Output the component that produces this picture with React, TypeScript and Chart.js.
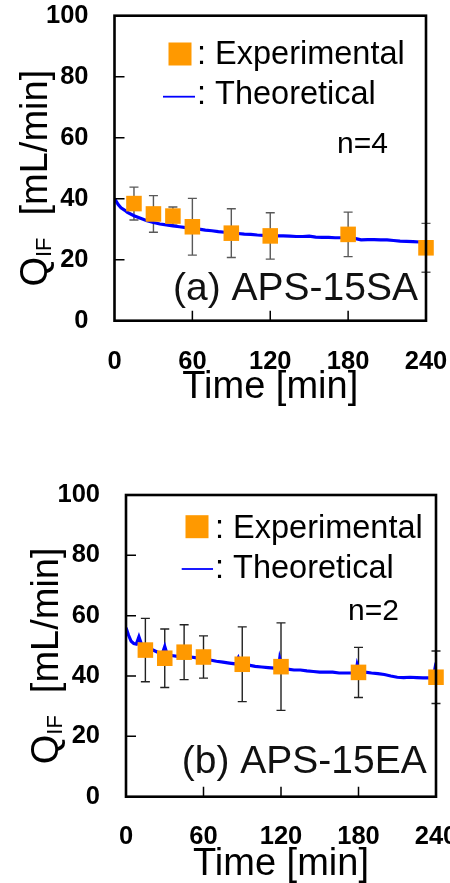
import React, { useEffect, useRef } from 'react';
import { Chart, registerables } from 'chart.js';
Chart.register(...registerables);

// ---- shared axis ticks ----
const X_TICKS = [0, 60, 120, 180, 240];
const Y_TICKS = [0, 20, 40, 60, 80, 100];
const X_INNER_TICKS = [60, 120, 180];
const Y_INNER_TICKS = [20, 40, 60, 80];

// ---- panel (a) APS-15SA ----
const A_EXP_TIME = [15, 30, 45, 60, 90, 120, 180, 240];
const A_EXP_Q = [38.4, 35.0, 34.3, 30.8, 28.7, 27.8, 28.3, 23.9];
const A_EXP_ERR = [5.4, 6.0, 3.0, 9.3, 8.0, 7.6, 7.3, 8.0];
const A_THEO_TIME = [0, 3, 5, 8, 10, 15, 20, 25, 30, 35, 40, 45, 50, 55, 60, 65, 70, 75, 80, 85, 90, 95, 100, 105, 110, 115, 120, 125, 130, 135, 140, 145, 150, 155, 160, 165, 170, 175, 180, 185, 190, 195, 200, 205, 210, 215, 220, 225, 230, 235, 240];
const A_THEO_Q = [40.0, 38.0, 37.0, 36.2, 35.5, 34.4, 33.6, 32.8, 32.2, 31.7, 31.4, 31.1, 30.8, 30.5, 30.3, 30.0, 29.7, 29.5, 29.2, 29.0, 28.8, 28.6, 28.4, 28.3, 28.1, 28.0, 27.9, 27.8, 27.8, 27.7, 27.6, 27.6, 27.7, 27.4, 27.3, 27.3, 27.2, 27.2, 27.1, 27.0, 26.5, 26.6, 26.6, 26.5, 26.5, 26.3, 26.1, 26.0, 25.9, 25.8, 25.8];

// ---- panel (b) APS-15EA ----
const B_EXP_TIME = [15, 30, 45, 60, 90, 120, 180, 240];
const B_EXP_Q = [48.6, 45.9, 47.9, 46.3, 43.9, 43.1, 41.2, 39.6];
const B_EXP_ERR = [10.5, 9.7, 9.1, 7.0, 12.4, 14.5, 8.3, 8.7];
const B_THEO_TIME = [0, 2, 4, 6, 8, 10, 12, 15, 20, 25, 28, 30, 32, 35, 40, 45, 50, 55, 60, 65, 70, 75, 80, 85, 87, 89, 95, 100, 105, 110, 115, 118, 119, 121, 125, 130, 135, 140, 145, 150, 155, 160, 165, 170, 175, 178, 179, 181, 185, 190, 195, 200, 205, 210, 215, 220, 225, 230, 235, 238, 239, 240];
const B_THEO_Q = [56.0, 53.5, 51.5, 50.8, 50.6, 53.0, 50.5, 49.8, 48.8, 47.8, 47.3, 49.8, 47.0, 46.8, 46.5, 46.5, 46.3, 46.0, 45.8, 45.3, 44.9, 44.6, 44.3, 44.0, 46.0, 44.0, 43.6, 43.2, 43.0, 42.8, 42.6, 42.5, 45.8, 42.5, 42.3, 42.0, 42.0, 41.7, 41.5, 41.3, 41.3, 41.3, 41.0, 41.0, 41.0, 41.0, 43.8, 41.2, 41.3, 41.0, 40.8, 40.5, 40.0, 39.6, 39.5, 39.6, 39.5, 39.4, 39.4, 39.6, 42.0, 40.0];

const FONT = "'Liberation Sans', Arial, sans-serif";

type Panel = {
  expT: number[]; expQ: number[]; expErr: number[];
  theoT: number[]; theoQ: number[];
  errColor: string;
  label: string; nText: string;
  top: number; width: number; height: number;
  area: { left: number; top: number; right: number; bottom: number };
  tickPad: number; titlePad: number;
  lg: { sqX: number; sqY: number; textX: number; expBase: number; lineX1: number; lineX2: number; lineY: number; theoBase: number; nX: number; nBase: number; labelRight: number; labelBase: number };
};

const PANELS: Panel[] = [
  {
    expT: A_EXP_TIME, expQ: A_EXP_Q, expErr: A_EXP_ERR, theoT: A_THEO_TIME, theoQ: A_THEO_Q,
    errColor: '#595959', label: '(a) APS-15SA', nText: 'n=4',
    top: 0, width: 450, height: 420,
    area: { left: 114.5, top: 15.7, right: 426, bottom: 320.7 },
    tickPad: 26.3, titlePad: 9.2,
    lg: { sqX: 65.5, sqY: 38.3, textX: 82.5, expBase: 48.6, lineX1: 48.5, lineX2: 80.5, lineY: 81, theoBase: 88.3, nX: 222.5, nBase: 137.6, labelRight: -8, labelBase: -20.7 },
  },
  {
    expT: B_EXP_TIME, expQ: B_EXP_Q, expErr: B_EXP_ERR, theoT: B_THEO_TIME, theoQ: B_THEO_Q,
    errColor: '#222222', label: '(b) APS-15EA', nText: 'n=2',
    top: 440, width: 470, height: 460,
    area: { left: 126, top: 55, right: 436, bottom: 356.7 },
    tickPad: 25, titlePad: 12.2,
    lg: { sqX: 71, sqY: 31.7, textX: 89, expBase: 43.3, lineX1: 55.7, lineX2: 87, lineY: 74, theoBase: 83.3, nX: 222, nBase: 125, labelRight: -9.3, labelBase: -23.4 },
  },
];

const decorPlugin = {
  id: 'decor',
  beforeDatasetsDraw(chart: any, _args: any, opts: any) {
    const p: Panel = opts.panel;
    const ctx = chart.ctx;
    const xs = chart.scales.x, ys = chart.scales.y;
    ctx.save();
    ctx.strokeStyle = p.errColor;
    ctx.lineWidth = 1.4;
    p.expT.forEach((t, i) => {
      const x = xs.getPixelForValue(t);
      const y1 = ys.getPixelForValue(p.expQ[i] + p.expErr[i]);
      const y2 = ys.getPixelForValue(p.expQ[i] - p.expErr[i]);
      ctx.beginPath();
      ctx.moveTo(x, y1); ctx.lineTo(x, y2);
      ctx.moveTo(x - 4.5, y1); ctx.lineTo(x + 4.5, y1);
      ctx.moveTo(x - 4.5, y2); ctx.lineTo(x + 4.5, y2);
      ctx.stroke();
    });
    ctx.restore();
  },
  afterDraw(chart: any, _args: any, opts: any) {
    const p: Panel = opts.panel;
    const ctx = chart.ctx;
    const a = chart.chartArea;
    const xs = chart.scales.x, ys = chart.scales.y;
    ctx.save();
    // inner tick marks
    ctx.strokeStyle = '#000';
    ctx.lineWidth = 1.5;
    ctx.beginPath();
    Y_INNER_TICKS.forEach(v => { const y = ys.getPixelForValue(v); ctx.moveTo(a.left, y); ctx.lineTo(a.left + 10, y); });
    X_INNER_TICKS.forEach(v => { const x = xs.getPixelForValue(v); ctx.moveTo(x, a.bottom); ctx.lineTo(x, a.bottom - 10); });
    ctx.stroke();
    // frame
    ctx.lineWidth = 2.6;
    ctx.strokeRect(a.left, a.top, a.right - a.left, a.bottom - a.top);

    // legend
    const L = p.lg;
    ctx.fillStyle = '#FF9900';
    ctx.fillRect(a.left + L.sqX - 11.5, a.top + L.sqY - 11.5, 23, 23);
    ctx.strokeStyle = '#0000FF';
    ctx.lineWidth = 1.8;
    ctx.beginPath();
    ctx.moveTo(a.left + L.lineX1, a.top + L.lineY); ctx.lineTo(a.left + L.lineX2, a.top + L.lineY);
    ctx.stroke();
    ctx.fillStyle = '#000';
    ctx.textBaseline = 'alphabetic';
    ctx.textAlign = 'left';
    ctx.font = `32.5px ${FONT}`;
    ctx.fillText(': Experimental', a.left + L.textX, a.top + L.expBase);
    ctx.fillText(': Theoretical', a.left + L.textX, a.top + L.theoBase);
    ctx.font = `30px ${FONT}`;
    ctx.fillText(p.nText, a.left + L.nX, a.top + L.nBase);
    ctx.font = `39px ${FONT}`;
    ctx.textAlign = 'right';
    ctx.fillStyle = '#111';
    ctx.fillText(p.label, a.right + L.labelRight, a.bottom + L.labelBase);

    // y-axis title with subscript
    ctx.fillStyle = '#000';
    ctx.textAlign = 'left';
    const mainFont = `38px ${FONT}`;
    const subFont = `22px ${FONT}`;
    ctx.font = mainFont;
    const wQ = ctx.measureText('Q').width;
    const wRest = ctx.measureText('[mL/min]').width;
    ctx.font = subFont;
    const wSub = ctx.measureText('IF').width;
    const gap = 22;
    const total = wQ + wSub + gap + wRest;
    const cy = (a.top + a.bottom) / 2 + 10;
    ctx.translate(a.left - 68, cy);
    ctx.rotate(-Math.PI / 2);
    let x0 = -total / 2;
    ctx.font = mainFont;
    ctx.fillText('Q', x0, 0);
    x0 += wQ;
    ctx.font = subFont;
    ctx.fillText('IF', x0, 4);
    x0 += wSub + gap;
    ctx.font = mainFont;
    ctx.fillText('[mL/min]', x0, 0);
    ctx.restore();
  },
};

function PanelChart({ p }: { p: Panel }) {
  const ref = useRef<HTMLCanvasElement | null>(null);
  useEffect(() => {
    if (!ref.current) return;
    const tickFont = { family: FONT, size: 25.5, weight: 'bold' as const };
    const chart = new Chart(ref.current, {
      type: 'scatter',
      data: {
        datasets: [
          {
            label: 'Experimental',
            data: p.expT.map((t, i) => ({ x: t, y: p.expQ[i] })),
            pointStyle: 'rect',
            pointRadius: 11,
            pointBackgroundColor: '#FF9900',
            backgroundColor: '#FF9900',
            pointBorderWidth: 0,
            borderWidth: 0,
            showLine: false,
            clip: false as any,
            order: 0,
          },
          {
            label: 'Theoretical',
            data: p.theoT.map((t, i) => ({ x: t, y: p.theoQ[i] })),
            showLine: true,
            borderColor: '#0000FF',
            backgroundColor: '#0000FF',
            borderWidth: 3.2,
            pointRadius: 0,
            tension: 0,
            order: 1,
          },
        ],
      },
      options: {
        animation: false,
        responsive: false,
        devicePixelRatio: 1,
        events: [],
        layout: { autoPadding: false, padding: { top: p.area.top, right: p.width - p.area.right, left: 0, bottom: 0 } },
        plugins: {
          legend: { display: false },
          tooltip: { enabled: false },
          decor: { panel: p },
        } as any,
        scales: {
          x: {
            type: 'linear', min: 0, max: 240,
            afterBuildTicks: (s: any) => { s.ticks = X_TICKS.map(v => ({ value: v })); },
            afterFit: (s: any) => {
              s.height = p.height - p.area.bottom;
              s.paddingLeft = 0; s.paddingRight = 0;
            },
            grid: { display: false, drawTicks: false },
            border: { display: false },
            ticks: { padding: p.tickPad, font: tickFont, color: '#000', maxRotation: 0, autoSkip: false },
            title: { display: true, text: 'Time [min]', color: '#000', font: { family: FONT, size: 38 }, padding: { top: 0, bottom: p.titlePad } },
          },
          y: {
            type: 'linear', min: 0, max: 100,
            afterBuildTicks: (s: any) => { s.ticks = Y_TICKS.map(v => ({ value: v })); },
            afterFit: (s: any) => {
              s.width = p.area.left;
              s.paddingTop = 0; s.paddingBottom = 0;
            },
            grid: { display: false, drawTicks: false },
            border: { display: false },
            ticks: { padding: 26, font: tickFont, color: '#000', autoSkip: false },
          },
        },
      },
      plugins: [decorPlugin],
    } as any);
    return () => chart.destroy();
  }, [p]);
  return (
    <canvas
      ref={ref}
      width={p.width}
      height={p.height}
      style={{ position: 'absolute', left: 0, top: p.top, width: p.width, height: p.height, display: 'block' }}
    />
  );
}

export default function App() {
  return (
    <div style={{ position: 'absolute', left: 0, top: 0, width: 450, height: 883, overflow: 'hidden', background: '#fff' }}>
      {PANELS.map((p, i) => <PanelChart key={i} p={p} />)}
    </div>
  );
}
